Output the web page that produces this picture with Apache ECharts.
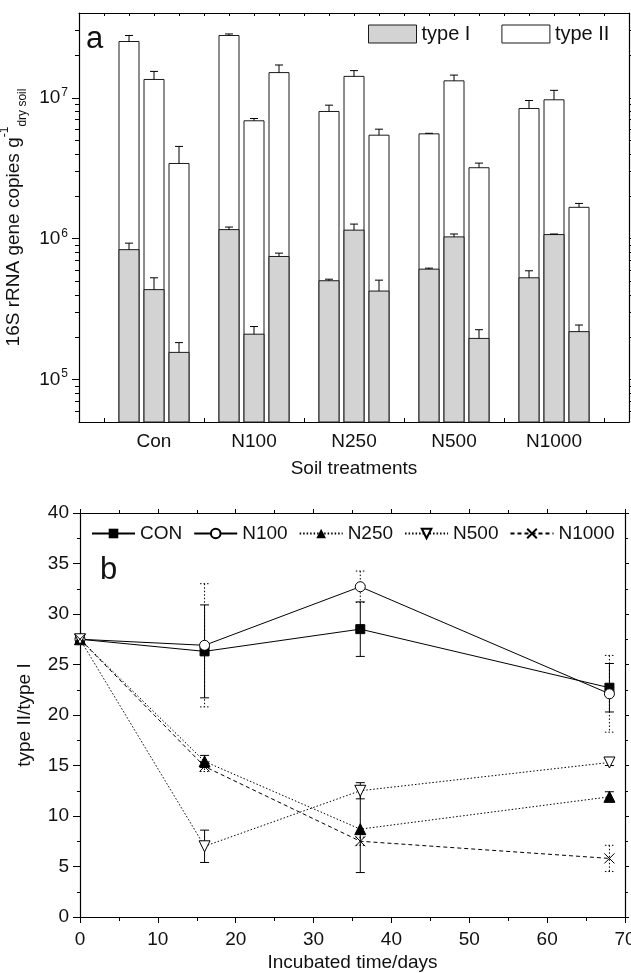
<!DOCTYPE html>
<html><head><meta charset="utf-8">
<script src="https://cdn.jsdelivr.net/npm/echarts@6/dist/echarts.min.js"></script>
<style>html,body{margin:0;padding:0;background:#fff}#c{width:631px;height:973px}</style>
</head><body><div id="c"></div>
<script>
// ---------- Panel a data ----------
const categories = ['Con', 'N100', 'N250', 'N500', 'N1000'];
const barOffsets = [-0.25, 0, 0.25];
// three replicate bars per treatment, in order
const typeII   = [2.51e7, 1.35e7, 3.42e6,  2.77e7, 6.87e6, 1.51e7,  8.0e6, 1.42e7, 5.43e6,  5.55e6, 1.32e7, 3.19e6,  8.4e6, 9.68e6, 1.67e6];
const typeIISD = [2.6e6, 1.9e6, 1.1e6,  0.7e6, 0.26e6, 2.0e6,  0.87e6, 1.4e6, 0.56e6,  0.05e6, 1.3e6, 0.25e6,  1.17e6, 1.62e6, 0.11e6];
const typeI    = [8.36e5, 4.35e5, 1.56e5,  1.16e6, 2.1e5, 7.48e5,  5.03e5, 1.15e6, 4.25e5,  6.08e5, 1.03e6, 1.96e5,  5.28e5, 1.07e6, 2.19e5];
const typeISD  = [0.94e5, 0.93e5, 0.27e5,  0.5e5, 0.28e5, 0.42e5,  0.13e5, 1.2e5, 0.83e5,  0.1e5, 0.5e5, 0.3e5,  0.64e5, 0.1e5, 0.25e5];
const logMajorTicks = [1e5, 1e6, 1e7];
const logMinorTicks = [6e4, 7e4, 8e4, 9e4, 2e5, 3e5, 4e5, 5e5, 6e5, 7e5, 8e5, 9e5,
                       2e6, 3e6, 4e6, 5e6, 6e6, 7e6, 8e6, 9e6, 2e7, 3e7];

// ---------- Panel b data ----------
const days = [0, 16, 36, 68];
const seriesNames = ['CON', 'N100', 'N250', 'N500', 'N1000'];
const CON    = [27.5, 26.3, 28.5, 22.7];
const CON_sd = [0.3, 4.6, 2.7, 2.4];
const N100    = [27.5, 26.9, 32.7, 22.1];
const N100_sd = [0.3, 6.1, 1.55, 3.8];
const N250    = [27.5, 15.4, 8.7, 11.9];
const N250_sd = [0.3, 0.6, 4.3, 0.5];
const N500    = [27.5, 7.0, 12.5, 15.3];
const N500_sd = [0.3, 1.6, 0.8, 0.3];
const N1000    = [27.5, 14.9, 7.5, 5.8];
const N1000_sd = [0.3, 0.5, 0.4, 1.3];

const FONT = "'Liberation Sans', Arial, Helvetica, sans-serif";
const yMinA = 5e4, yMaxA = 4e7;

function barData(vals, sds) {
  const out = [];
  categories.forEach((c, g) => barOffsets.forEach((o, k) => {
    const i = g * 3 + k;
    out.push([g + o, vals[i], sds[i]]);
  }));
  return out;
}
function barRender(fill) {
  return function (params, api) {
    const x = api.value(0), v = api.value(1);
    const p0 = api.coord([x - 0.1, yMinA]);
    const p1 = api.coord([x + 0.1, v]);
    return { type: 'rect', shape: { x: p0[0], y: p1[1], width: p1[0] - p0[0], height: p0[1] - p1[1] },
      style: { fill: fill, stroke: '#1a1a1a', lineWidth: 1 } };
  };
}
function upErrRender(params, api) {
  const x = api.value(0), v = api.value(1), sd = api.value(2);
  const a = api.coord([x, v]), b = api.coord([x, v + sd]);
  const st = { stroke: '#000', lineWidth: 1 };
  return { type: 'group', children: [
    { type: 'line', shape: { x1: a[0], y1: a[1], x2: b[0], y2: b[1] }, style: st },
    { type: 'line', shape: { x1: b[0] - 4, y1: b[1], x2: b[0] + 4, y2: b[1] }, style: st }
  ] };
}
function errRender(dash) {
  return function (params, api) {
    const x = api.value(0), v = api.value(1), sd = api.value(2);
    const t = api.coord([x, v + sd]), b = api.coord([x, v - sd]);
    const st = { stroke: '#000', lineWidth: 1, lineDash: dash };
    return { type: 'group', children: [
      { type: 'line', shape: { x1: t[0], y1: t[1], x2: b[0], y2: b[1] }, style: st },
      { type: 'line', shape: { x1: t[0] - 4.5, y1: t[1], x2: t[0] + 4.5, y2: t[1] }, style: st },
      { type: 'line', shape: { x1: b[0] - 4.5, y1: b[1], x2: b[0] + 4.5, y2: b[1] }, style: st }
    ] };
  };
}
function pts(vals, sds) { return days.map((d, i) => sds ? [d, vals[i], sds[i]] : [d, vals[i]]); }

const axLine = { show: true, onZero: false, lineStyle: { color: '#000', width: 1.2 } };
const lbl = { color: '#111', fontSize: 19, fontFamily: FONT };

const chart = echarts.init(document.getElementById('c'), null, { renderer: 'canvas' });
const opt = {
  animation: false,
  textStyle: { fontFamily: FONT },
  grid: [
    { left: 79, top: 13, width: 550, height: 409, show: false, containLabel: false, outerBoundsMode: 'none' },
    { left: 80, top: 513, width: 545, height: 404, show: false, containLabel: false, outerBoundsMode: 'none' }
  ],
  legend: [
    { data: [
        { name: 'type I', itemStyle: { color: '#d3d3d3', borderColor: '#1a1a1a', borderWidth: 1 } },
        { name: 'type II', itemStyle: { color: '#fff', borderColor: '#1a1a1a', borderWidth: 1 } } ],
      icon: 'rect', left: 363, top: 19, itemWidth: 48, itemHeight: 18, itemGap: 31,
      textStyle: { fontSize: 20, color: '#111', fontFamily: FONT }, selectedMode: false },
    { data: seriesNames, left: 86, top: 519, itemWidth: 43, itemHeight: 12, itemGap: 11,
      textStyle: { fontSize: 19, color: '#111', fontFamily: FONT }, selectedMode: false }
  ],
  xAxis: [
    { gridIndex: 0, type: 'value', position: 'bottom', min: -0.75, max: 4.75, interval: 0.25,
      axisLine: axLine, splitLine: { show: false },
      axisTick: { inside: true, length: 4, lineStyle: { color: '#000' } },
      axisLabel: Object.assign({}, lbl, { margin: 10, customValues: [0, 1, 2, 3, 4], formatter: v => categories[Math.round(v)] }),
      name: 'Soil treatments', nameLocation: 'middle', nameGap: 37,
      nameTextStyle: { fontSize: 19, color: '#111', fontFamily: FONT } },
    { gridIndex: 0, type: 'value', position: 'top', min: -0.75, max: 4.75, interval: 0.25,
      axisLine: axLine, splitLine: { show: false },
      axisTick: { inside: true, length: 3, lineStyle: { color: '#000' } }, axisLabel: { show: false } },
    { gridIndex: 1, type: 'value', position: 'bottom', min: 0, max: 70, interval: 10,
      axisLine: axLine, splitLine: { show: false },
      axisTick: { inside: false, length: 6, lineStyle: { color: '#000' } },
      minorTick: { show: true, splitNumber: 2, length: 4, lineStyle: { color: '#000' } },
      axisLabel: Object.assign({}, lbl, { margin: 13 }),
      name: 'Incubated time/days', nameLocation: 'middle', nameGap: 36,
      nameTextStyle: { fontSize: 19, color: '#111', fontFamily: FONT } },
    { gridIndex: 1, type: 'value', position: 'top', min: 0, max: 70, interval: 10,
      axisLine: axLine, splitLine: { show: false },
      axisTick: { inside: false, length: 4, lineStyle: { color: '#000' } },
      minorTick: { show: true, splitNumber: 2, length: 3, lineStyle: { color: '#000' } },
      axisLabel: { show: false } }
  ],
  yAxis: [
    { gridIndex: 0, type: 'log', logBase: 10, position: 'left', min: yMinA, max: yMaxA,
      axisLine: axLine, splitLine: { show: false },
      axisTick: { inside: false, length: 7, customValues: logMajorTicks, lineStyle: { color: '#000' } },
      axisLabel: Object.assign({}, lbl, { margin: 11, customValues: logMajorTicks,
        formatter: v => '10{sup|' + Math.round(Math.log10(v)) + '}',
        rich: { sup: { fontSize: 12, padding: [0, 0, 11, 1], color: '#111', fontFamily: FONT } } }),
      name: '{n|16S rRNA gene copies g}{sup|-1}{sub|dry soil}', nameLocation: 'middle', nameGap: 47, nameRotate: 90,
      nameTextStyle: { fontSize: 19, color: '#111', fontFamily: FONT,
        rich: { n: { fontSize: 19, lineHeight: 30, verticalAlign: 'middle', color: '#111', fontFamily: FONT },
                sup: { fontSize: 12, lineHeight: 14, verticalAlign: 'top', color: '#111', fontFamily: FONT },
                sub: { fontSize: 12, lineHeight: 14, verticalAlign: 'bottom', color: '#111', fontFamily: FONT } } } },
    { gridIndex: 0, type: 'log', logBase: 10, position: 'left', offset: 0, min: yMinA, max: yMaxA,
      axisLine: { show: false, onZero: false }, splitLine: { show: false },
      axisTick: { inside: false, length: 4, customValues: logMinorTicks, lineStyle: { color: '#000' } },
      axisLabel: { show: false } },
    { gridIndex: 0, type: 'log', logBase: 10, position: 'right', offset: 0, min: yMinA, max: yMaxA,
      axisLine: axLine, splitLine: { show: false },
      axisTick: { inside: false, length: 4, customValues: logMajorTicks, lineStyle: { color: '#000' } },
      axisLabel: { show: false } },
    { gridIndex: 0, type: 'log', logBase: 10, position: 'right', offset: 0, min: yMinA, max: yMaxA,
      axisLine: { show: false, onZero: false }, splitLine: { show: false },
      axisTick: { inside: false, length: 2, customValues: logMinorTicks, lineStyle: { color: '#000' } },
      axisLabel: { show: false } },
    { gridIndex: 1, type: 'value', position: 'left', min: 0, max: 40, interval: 5,
      axisLine: axLine, splitLine: { show: false },
      axisTick: { inside: false, length: 7, lineStyle: { color: '#000' } },
      minorTick: { show: true, splitNumber: 2, length: 3, lineStyle: { color: '#000' } },
      axisLabel: Object.assign({}, lbl, { margin: 11 }),
      name: 'type II/type I', nameLocation: 'middle', nameGap: 46, nameRotate: 90,
      nameTextStyle: { fontSize: 19, color: '#111', fontFamily: FONT } },
    { gridIndex: 1, type: 'value', position: 'right', min: 0, max: 40, interval: 5,
      axisLine: axLine, splitLine: { show: false },
      axisTick: { inside: false, length: 4, lineStyle: { color: '#000' } },
      minorTick: { show: true, splitNumber: 2, length: 3, lineStyle: { color: '#000' } },
      axisLabel: { show: false } }
  ],
  graphic: [
    { type: 'text', left: 86, top: 24, style: { text: 'a', fontSize: 31, fill: '#111', fontFamily: FONT } },
    { type: 'text', left: 100, top: 555, style: { text: 'b', fontSize: 31, fill: '#111', fontFamily: FONT } }
  ],
  series: [
    { name: 'type II', type: 'custom', xAxisIndex: 0, yAxisIndex: 0, data: barData(typeII, typeIISD),
      itemStyle: { color: '#fff', borderColor: '#1a1a1a' }, renderItem: barRender('#fff'), z: 2 },
    { name: 'type II err', type: 'custom', xAxisIndex: 0, yAxisIndex: 0, data: barData(typeII, typeIISD),
      renderItem: upErrRender, z: 3 },
    { name: 'type I', type: 'custom', xAxisIndex: 0, yAxisIndex: 0, data: barData(typeI, typeISD),
      itemStyle: { color: '#d3d3d3', borderColor: '#1a1a1a' }, renderItem: barRender('#d3d3d3'), z: 4 },
    { name: 'type I err', type: 'custom', xAxisIndex: 0, yAxisIndex: 0, data: barData(typeI, typeISD),
      renderItem: upErrRender, z: 5 },

    { name: 'CON err', type: 'custom', xAxisIndex: 2, yAxisIndex: 4, data: pts(CON, CON_sd), renderItem: errRender(null), z: 2 },
    { name: 'N100 err', type: 'custom', xAxisIndex: 2, yAxisIndex: 4, data: pts(N100, N100_sd), renderItem: errRender([1.5, 2]), z: 2 },
    { name: 'N250 err', type: 'custom', xAxisIndex: 2, yAxisIndex: 4, data: pts(N250, N250_sd), renderItem: errRender(null), z: 2 },
    { name: 'N500 err', type: 'custom', xAxisIndex: 2, yAxisIndex: 4, data: pts(N500, N500_sd), renderItem: errRender(null), z: 2 },
    { name: 'N1000 err', type: 'custom', xAxisIndex: 2, yAxisIndex: 4, data: pts(N1000, N1000_sd), renderItem: errRender([1.5, 2]), z: 2 },

    { name: 'CON', type: 'line', xAxisIndex: 2, yAxisIndex: 4, data: pts(CON), symbol: 'rect', symbolSize: 9,
      itemStyle: { color: '#000', borderColor: '#000' }, lineStyle: { color: '#000', width: 1 }, z: 5 },
    { name: 'N100', type: 'line', xAxisIndex: 2, yAxisIndex: 4, data: pts(N100), symbol: 'circle', symbolSize: 10,
      itemStyle: { color: '#fff', borderColor: '#000', borderWidth: 1 }, lineStyle: { color: '#000', width: 1 }, z: 5 },
    { name: 'N250', type: 'line', xAxisIndex: 2, yAxisIndex: 4, data: pts(N250), symbol: 'triangle', symbolSize: 11,
      itemStyle: { color: '#000', borderColor: '#000' }, lineStyle: { color: '#000', width: 1, type: [1.5, 2] }, z: 5 },
    { name: 'N500', type: 'line', xAxisIndex: 2, yAxisIndex: 4, data: pts(N500), symbol: 'triangle', symbolSize: 11, symbolRotate: 180,
      itemStyle: { color: '#fff', borderColor: '#000', borderWidth: 1 }, lineStyle: { color: '#000', width: 1, type: [1.5, 2] }, z: 5 },
    { name: 'N1000', type: 'line', xAxisIndex: 2, yAxisIndex: 4, data: pts(N1000), symbol: 'path://M0,0L10,10M10,0L0,10', symbolSize: 10,
      itemStyle: { color: 'rgba(0,0,0,0)', borderColor: '#000', borderWidth: 1 }, lineStyle: { color: '#000', width: 1, type: [4, 3] }, z: 5 }
  ]
};
chart.setOption(opt);
</script>
</body></html>
